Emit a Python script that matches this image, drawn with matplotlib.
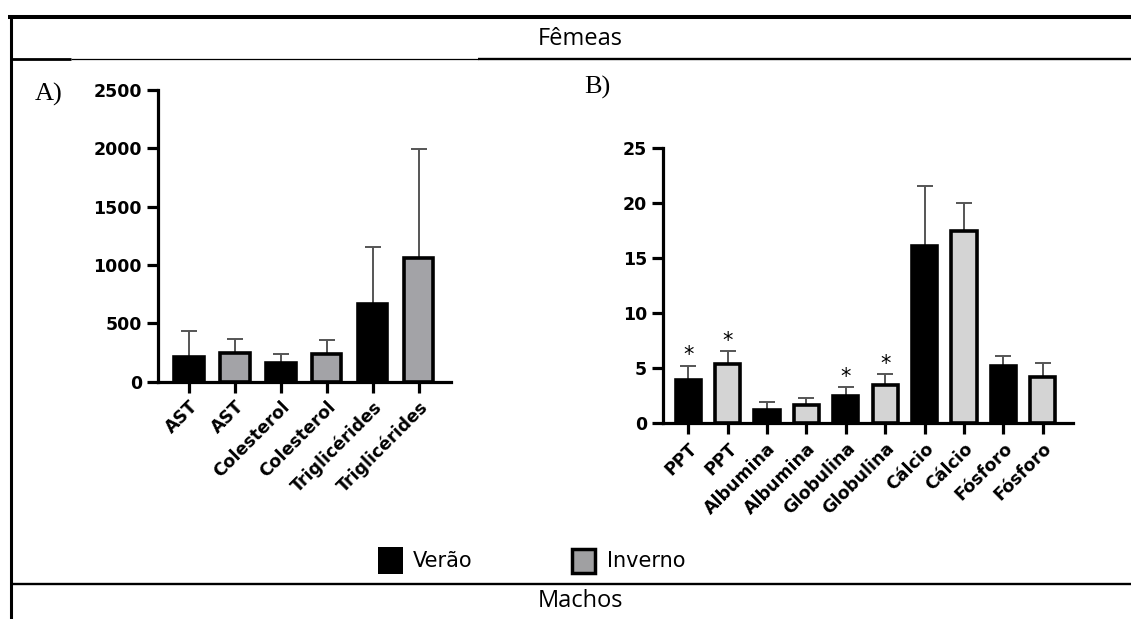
import matplotlib
matplotlib.use('Agg')
import matplotlib.pyplot as plt
from matplotlib.patches import Rectangle
import numpy as np

# ---------------- data ----------------
labels_a = ['AST', 'AST', 'Colesterol', 'Colesterol', 'Triglicérides', 'Triglicérides']
season_a = ['Verão', 'Inverno', 'Verão', 'Inverno', 'Verão', 'Inverno']
values_a = [213, 247, 164, 236, 665, 1065]
err_a = [222, 119, 74, 122, 493, 930]

labels_b = ['PPT', 'PPT', 'Albumina', 'Albumina', 'Globulina', 'Globulina',
            'Cálcio', 'Cálcio', 'Fósforo', 'Fósforo']
season_b = ['Verão', 'Inverno'] * 5
values_b = [3.92, 5.38, 1.25, 1.65, 2.50, 3.52, 16.13, 17.47, 5.20, 4.22]
err_b = [1.32, 1.22, 0.66, 0.68, 0.83, 0.93, 5.47, 2.53, 0.95, 1.26]
signif_b = [True, True, False, False, True, True, False, False, False, False]

yticks_a = [0, 500, 1000, 1500, 2000, 2500]
yticks_b = [0, 5, 10, 15, 20, 25]

legend_labels = ['Verão', 'Inverno']
title_top = 'Fêmeas'
title_bottom = 'Machos'

# ---------------- styles ----------------
W, H = 1131, 619
fig = plt.figure(figsize=(W / 100, H / 100), dpi=100)
TICKFONT = dict(family='DejaVu Sans', weight='bold', size=12.5)
ERRC = '#555555'


def draw_panel(ax, labels, seasons, values, errs, inv_color, yticks, xlim, signif=None):
    x = np.arange(len(labels))
    colors = ['black' if s == 'Verão' else inv_color for s in seasons]
    ax.errorbar(x, values, yerr=[np.zeros(len(values)), errs], fmt='none',
                ecolor=ERRC, elinewidth=1.4, capsize=6, capthick=1.4, zorder=2)
    ax.bar(x, values, width=0.64, color=colors, edgecolor='black',
           linewidth=2.6, zorder=3)
    if signif is not None:
        for xi, v, e, s in zip(x, values, errs, signif):
            if s:
                ax.annotate('*', (xi, v + e), xytext=(0, 3), textcoords='offset points',
                            ha='center', va='baseline', fontsize=15,
                            family='DejaVu Sans', zorder=4)
    ax.set_xlim(*xlim)
    ax.set_ylim(yticks[0], yticks[-1])
    ax.set_yticks(yticks)
    ax.set_xticks(x)
    ax.set_xticklabels(labels, rotation=45, ha='right', rotation_mode='anchor',
                       fontdict=TICKFONT)
    ax.set_yticklabels([str(t) for t in yticks], fontdict=TICKFONT)
    for sp in ['top', 'right']:
        ax.spines[sp].set_visible(False)
    for sp in ['left', 'bottom']:
        ax.spines[sp].set_linewidth(2.3)
    ax.tick_params(axis='both', length=8, width=2.3, pad=3.5)
    ax.set_facecolor('none')


ax_a = fig.add_axes([158 / W, 1 - 381.7 / H, (450.7 - 158) / W, (381.7 - 90.2) / H])
draw_panel(ax_a, labels_a, season_a, values_a, err_a, '#a3a3a7', yticks_a, (-0.675, 5.70))

ax_b = fig.add_axes([663 / W, 1 - 423.3 / H, (1072.7 - 663) / W, (423.3 - 148.3) / H])
draw_panel(ax_b, labels_b, season_b, values_b, err_b, '#d4d4d4', yticks_b, (-0.64, 9.76),
           signif=signif_b)

# ---------------- overlay: table frame, titles, legend ----------------
ov = fig.add_axes([0, 0, 1, 1])
ov.set_xlim(0, W)
ov.set_ylim(H, 0)
ov.axis('off')
ov.set_zorder(-1)

ov.plot([8, W], [17, 17], color='black', lw=2.9, solid_capstyle='butt')
ov.plot([10.5, 10.5], [15, H], color='black', lw=2.2, solid_capstyle='butt')
ov.plot([10.5, 71], [59, 59], color='black', lw=2.0, solid_capstyle='butt')
ov.plot([71, 478], [59, 59], color='black', lw=0.9, solid_capstyle='butt')
ov.plot([478, W], [59, 59], color='black', lw=1.7, solid_capstyle='butt')
ov.plot([10.5, W], [584, 584], color='black', lw=1.7, solid_capstyle='butt')

ov.text(580, 39, title_top, ha='center', va='center', fontsize=17, family='Open Sans')
ov.text(580, 601, title_bottom, ha='center', va='center', fontsize=17, family='Open Sans')

ov.text(49, 94, 'A)', ha='center', va='center', fontsize=19, family='Liberation Serif')
ov.text(597, 87, 'B)', ha='center', va='center', fontsize=19, family='Liberation Serif')

ov.add_patch(Rectangle((377.5, 547.3), 25, 27, facecolor='black', edgecolor='none'))
ov.add_patch(Rectangle((571.8, 549.0), 22.8, 23.5, facecolor='#a0a0a2',
                       edgecolor='black', linewidth=2.5))
ov.text(413, 561, legend_labels[0], ha='left', va='center', fontsize=15, family='DejaVu Sans')
ov.text(607, 561, legend_labels[1], ha='left', va='center', fontsize=15, family='DejaVu Sans')

fig.savefig('out.png', dpi=100)
